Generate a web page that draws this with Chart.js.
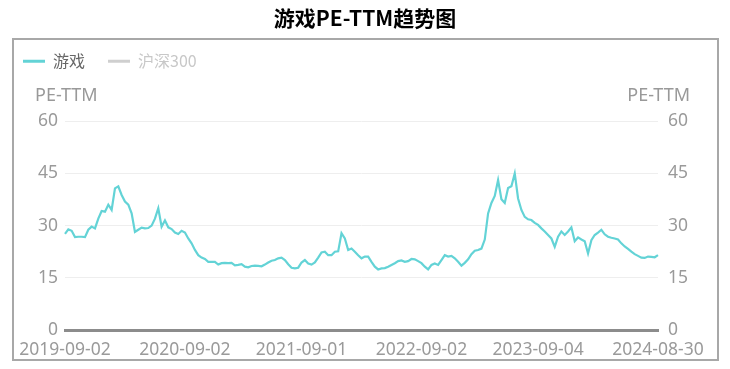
<!DOCTYPE html>
<html lang="zh-CN">
<head>
<meta charset="utf-8">
<title>游戏PE-TTM趋势图</title>
<script src="https://cdn.jsdelivr.net/npm/chart.js@4.4.1/dist/chart.umd.min.js"></script>
<style>
  html, body { margin: 0; padding: 0; background: #fff; }
  #wrap { position: relative; width: 730px; height: 369px; }
</style>
</head>
<body>
<div id="wrap"><canvas id="pe-chart" width="730" height="369"></canvas></div>
<script>
// 游戏行业 PE-TTM，按时间顺序分段读取
const peSeg1 = [27.6, 28.9, 28.5, 26.7, 26.8, 26.8, 26.7, 28.8, 29.7, 29.2, 32.0, 34.2, 34.0, 36.0, 34.5, 40.7, 41.3, 38.8, 36.9, 36.0, 33.5, 28.2, 28.8, 29.4, 29.2, 29.3, 30.0, 32.0, 35.0, 29.7, 31.5, 29.5, 29.0, 28.0, 27.6, 28.5];
const peSeg2 = [28.0, 26.3, 24.9, 23.0, 21.5, 20.8, 20.4, 19.6, 19.6, 19.6, 18.8, 19.2, 19.3, 19.2, 19.3, 18.6, 18.7, 18.9, 18.2, 18.0, 18.4, 18.5, 18.4, 18.3, 18.8, 19.4, 19.9, 20.1, 20.6, 20.8, 20.1, 18.9, 17.9, 17.7, 17.9, 19.4];
const peSeg3 = [20.1, 19.1, 18.8, 19.4, 20.8, 22.3, 22.5, 21.5, 21.5, 22.5, 22.6, 27.8, 26.3, 23.0, 23.4, 22.5, 21.5, 20.6, 21.1, 21.1, 19.6, 18.2, 17.4, 17.7, 17.8, 18.2, 18.7, 19.2, 19.8, 20.0, 19.6, 19.8, 20.4, 20.3, 19.8, 19.2];
const peSeg4 = [18.2, 17.4, 18.7, 19.1, 18.7, 20.1, 21.5, 21.1, 21.3, 20.6, 19.6, 18.5, 19.3, 20.3, 21.8, 22.8, 23.0, 23.4, 26.0, 33.5, 36.5, 38.5, 43.1, 37.6, 36.5, 40.8, 41.3, 45.0, 37.8, 34.5, 32.5, 31.8, 31.6, 30.8, 30.2, 29.2];
const peSeg5 = [28.3, 27.3, 26.3, 23.9, 26.8, 28.3, 27.3, 28.3, 29.5, 25.5, 26.6, 26.0, 25.5, 22.0, 25.8, 27.3, 28.0, 28.8, 27.5, 26.8, 26.5, 26.3, 26.0, 24.9, 24.0, 23.3, 22.5, 21.8, 21.3, 20.8, 20.7, 21.1, 21.0, 20.9, 21.5];

const dateTicks = ['2019-09-02', '2020-09-02', '2021-09-01', '2022-09-02', '2023-09-04', '2024-08-30'];
const yTicks = [0, 15, 30, 45, 60];
const seriesNames = ['游戏', '沪深300'];

const gameValues = [...peSeg1, ...peSeg2, ...peSeg3, ...peSeg4, ...peSeg5];
const labels = gameValues.map((_, i) => i);

// 日期标签均匀分布在横轴上
const tickAt = {};
dateTicks.forEach((d, k) => {
  tickAt[Math.round(k * (gameValues.length - 1) / (dateTicks.length - 1))] = d;
});

const TEAL = '#63d3d6';
const FONT = '"Noto Sans", "Noto Sans CJK SC", sans-serif';
Chart.defaults.font.family = FONT;

// 外框 + 两侧轴名
const framePlugin = {
  id: 'frame',
  beforeDraw(chart) {
    const ctx = chart.ctx;
    ctx.save();
    ctx.strokeStyle = '#a8a8a8';
    ctx.lineWidth = 2;
    ctx.strokeRect(13, 39, 705, 321);
    ctx.restore();
  },
  afterDraw(chart) {
    const ctx = chart.ctx;
    const area = chart.chartArea;
    ctx.save();
    ctx.font = '18px ' + FONT;
    ctx.fillStyle = '#999';
    ctx.textBaseline = 'middle';
    ctx.textAlign = 'left';
    ctx.fillText('PE-TTM', area.left - 30, area.top - 25);
    ctx.textAlign = 'right';
    ctx.fillText('PE-TTM', area.right + 32, area.top - 25);
    ctx.restore();
  }
};

// 图例下方留出轴名的位置
const legendSpace = {
  id: 'legendSpace',
  beforeInit(chart) {
    const fit = chart.legend.fit;
    chart.legend.fit = function () {
      fit.bind(chart.legend)();
      this.height = 91;
    };
  }
};

const ctx = document.getElementById('pe-chart').getContext('2d');
new Chart(ctx, {
  type: 'line',
  data: {
    labels: labels,
    datasets: [
      {
        label: seriesNames[0],
        data: gameValues,
        borderColor: TEAL,
        backgroundColor: TEAL,
        borderWidth: 2.2,
        pointRadius: 0,
        tension: 0,
        yAxisID: 'y'
      },
      {
        label: seriesNames[1],
        data: [],
        borderColor: '#cfcfcf',
        backgroundColor: '#cfcfcf',
        borderWidth: 2,
        pointRadius: 0,
        yAxisID: 'y'
      }
    ]
  },
  options: {
    responsive: false,
    animation: false,
    layout: { padding: 0 },
    plugins: {
      title: {
        display: true,
        text: '游戏PE-TTM趋势图',
        color: '#000',
        font: { size: 21, weight: 'bold', family: '"Noto Sans CJK SC", sans-serif' },
        padding: { top: 5, bottom: 0 }
      },
      legend: {
        align: 'start',
        labels: {
          usePointStyle: true,
          pointStyle: 'line',
          pointStyleWidth: 22,
          padding: 23,
          font: { size: 16, family: '"Noto Sans CJK SC", sans-serif' },
          generateLabels(chart) {
            const items = Chart.defaults.plugins.legend.labels.generateLabels(chart);
            items.forEach((it, i) => {
              it.lineWidth = 3;
              it.fontColor = i === 0 ? '#666' : '#c8c8c8';
            });
            return items;
          }
        }
      },
      tooltip: { enabled: false }
    },
    scales: {
      x: {
        type: 'category',
        offset: false,
        grid: { display: false, drawTicks: false },
        border: { display: true, color: '#8c8c8c', width: 3 },
        afterFit(scale) { scale.height = 39; },
        ticks: {
          autoSkip: false,
          maxRotation: 0,
          minRotation: 0,
          padding: 10,
          color: '#9a9a9a',
          font: { size: 17.5 },
          callback(value, index) {
            return tickAt[index] !== undefined ? tickAt[index] : '';
          }
        }
      },
      y: {
        position: 'left',
        min: yTicks[0],
        max: yTicks[yTicks.length - 1],
        afterFit(scale) { scale.width = 65; },
        afterBuildTicks(scale) { scale.ticks = yTicks.map(v => ({ value: v })); },
        grid: { color: '#eeeeee', lineWidth: 1, drawTicks: false },
        border: { display: false },
        ticks: { padding: 7, color: '#9a9a9a', font: { size: 17.5 } }
      },
      y1: {
        position: 'right',
        min: yTicks[0],
        max: yTicks[yTicks.length - 1],
        afterFit(scale) { scale.width = 72; },
        afterBuildTicks(scale) { scale.ticks = yTicks.map(v => ({ value: v })); },
        grid: { display: false, drawTicks: false },
        border: { display: false },
        ticks: { padding: 10, color: '#9a9a9a', font: { size: 17.5 } }
      }
    }
  },
  plugins: [framePlugin, legendSpace]
});
</script>
</body>
</html>
